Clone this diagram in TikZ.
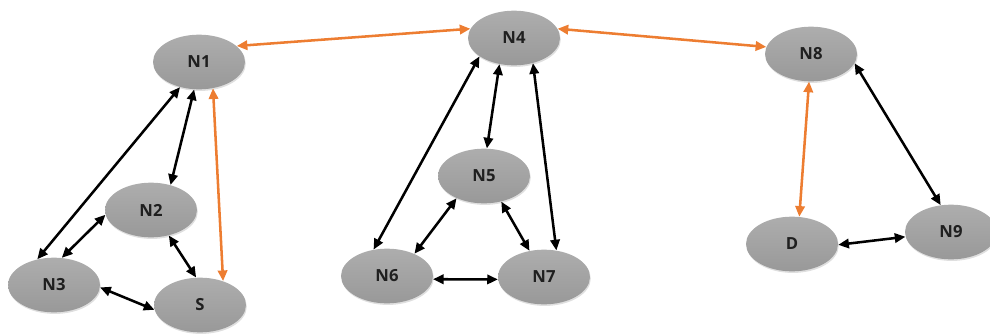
\documentclass[tikz,border=0pt]{standalone}
\usepackage{fontspec}
\setmainfont{Open Sans}
\usetikzlibrary{arrows.meta,shapes.geometric,shadows}
\definecolor{linkorange}{HTML}{ED7D31}
\definecolor{nodegrey}{HTML}{A6A6A6}
\definecolor{labelink}{HTML}{1F1F1F}
\tikzset{
  netnode/.style={ellipse, minimum width=69pt, minimum height=41pt, inner sep=0pt,
    top color=nodegrey!92!white, bottom color=nodegrey!92!black,
    draw=none, text=labelink, font=\fontsize{12.5}{14}\selectfont\bfseries,
    drop shadow={shadow xshift=0.6pt, shadow yshift=-1.2pt, opacity=0.25}},
  link/.style={line width=1.9pt, {Triangle[length=8pt,width=7pt]}-{Triangle[length=8pt,width=7pt]}},
  blacklink/.style={link, black},
  orangelink/.style={link, linkorange},
}
\begin{document}
\begin{tikzpicture}[x=0.75pt, y=-0.75pt]
\useasboundingbox (0,0) rectangle (990,333);
% nodes
\node[netnode] (N1) at (199,62) {N1};
\node[netnode] (N2) at (151,210) {N2};
\node[netnode] (N3) at (54,285) {N3};
\node[netnode] (S)  at (200,305) {S};
\node[netnode] (N4) at (514,38) {N4};
\node[netnode] (N5) at (484,176) {N5};
\node[netnode] (N6) at (387,276) {N6};
\node[netnode] (N7) at (544,277) {N7};
\node[netnode] (N8) at (811,54) {N8};
\node[netnode] (D)  at (792,244) {D};
\node[netnode] (N9) at (951,232) {N9};
% route links
\draw[orangelink] (N1.23) -- (N4.168);
\draw[orangelink] (N4.12) -- (N8.171);
\draw[orangelink] (N1.298) -- (S.46);
\draw[orangelink] (N8.266) -- (D.75);
% left cluster
\draw[blacklink] (N1.233) -- (N3.123);
\draw[blacklink] (N1.260) -- (N2.52);
\draw[blacklink] (N2.186) -- (N3.74);
\draw[blacklink] (N2.305) -- (S.98);
\draw[blacklink] (N3.357) -- (S.186);
% middle cluster
\draw[blacklink] (N4.208) -- (N6.117);
\draw[blacklink] (N4.241) -- (N5.84);
\draw[blacklink] (N4.307) -- (N7.65);
\draw[blacklink] (N5.219) -- (N6.39);
\draw[blacklink] (N5.304) -- (N7.119);
\draw[blacklink] (N6.356) -- (N7.183);
% right cluster
\draw[blacklink] (N8.348) -- (N9.111);
\draw[blacklink] (D.359) -- (N9.186);
\end{tikzpicture}
\end{document}
